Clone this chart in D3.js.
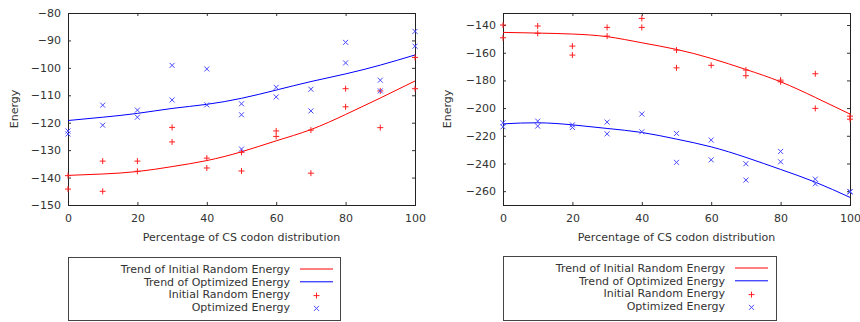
<!DOCTYPE html>
<html>
<head>
<meta charset="utf-8">
<script src="https://cdn.jsdelivr.net/npm/d3@7"></script>
<style>
  body { margin: 0; background: #fff; }
  text { font-family: "DejaVu Sans", sans-serif; font-size: 11px; fill: #333; }
</style>
</head>
<body>
<svg id="chart" width="860" height="322"></svg>
<script>
// x positions used by the trend curves
const trendX = [0, 10, 20, 30, 40, 50, 60, 70, 80, 90, 100];
const xTicks = [0, 20, 40, 60, 80, 100];

// ---- left panel ----
const leftYTicks = [-150, -140, -130, -120, -110, -100, -90, -80];
const leftRandomTrend = [-139.2, -138.7, -137.8, -136.0, -133.8, -130.6, -126.6, -122.5, -117.0, -111.0, -104.8];
const leftOptimizedTrend = [-119.2, -118.0, -116.6, -114.8, -113.3, -111.1, -108.1, -105.0, -102.2, -99.0, -95.3];
const leftRandomPoints = [
  [0, -144.2], [0, -139.3], [10, -134.0], [10, -145.0], [20, -134.0], [20, -137.7],
  [30, -121.7], [30, -127.0], [40, -132.9], [40, -136.5], [50, -130.8], [50, -137.6],
  [60, -123.0], [60, -125.0], [70, -122.7], [70, -138.4], [80, -107.6], [80, -114.2],
  [90, -108.4], [90, -121.8], [100, -96.2], [100, -107.6]
];
const leftOptimizedPoints = [
  [0, -123.0], [0, -124.1], [10, -113.6], [10, -120.9], [20, -115.4], [20, -118.0],
  [30, -99.1], [30, -111.7], [40, -100.4], [40, -113.5], [50, -113.1], [50, -117.1],
  [50, -129.6], [60, -107.1], [60, -110.6], [70, -107.8], [70, -115.7], [80, -90.7],
  [80, -98.2], [90, -104.5], [90, -108.4], [100, -86.7], [100, -92.1]
];

// ---- right panel ----
const rightYTicks = [-260, -240, -220, -200, -180, -160, -140];
const rightRandomTrend = [-145.3, -145.8, -146.5, -148.4, -152.8, -157.6, -164.1, -172.1, -181.0, -192.3, -204.3];
const rightOptimizedTrend = [-211.4, -210.6, -212.1, -214.7, -217.6, -222.4, -228.0, -235.6, -244.3, -253.5, -264.5];
const rightRandomPoints = [
  [0, -140.0], [0, -149.2], [10, -140.7], [10, -146.0], [20, -155.2], [20, -161.7],
  [30, -141.7], [30, -148.0], [40, -135.2], [40, -141.7], [50, -158.1], [50, -170.9],
  [60, -169.1], [70, -172.5], [70, -176.6], [80, -179.8], [80, -181.0], [90, -175.2],
  [90, -200.2], [100, -205.8], [100, -208.0]
];
const rightOptimizedPoints = [
  [0, -210.6], [0, -213.5], [10, -209.4], [10, -213.0], [20, -212.1], [20, -214.0],
  [30, -210.1], [30, -218.6], [40, -204.3], [40, -217.1], [50, -218.3], [50, -239.2],
  [60, -223.1], [60, -237.4], [70, -240.2], [70, -252.0], [80, -231.3], [80, -238.8],
  [90, -251.3], [90, -254.7], [100, -260.2], [100, -260.6]
];

const legendLabels = ['Trend of Initial Random Energy', 'Trend of Optimized Energy',
                      'Initial Random Energy', 'Optimized Energy'];

const RED = '#ff0000';
const BLUE = '#0000ff';
const POINT_RED = '#ff2020';
const POINT_BLUE = '#4848ff';
const plusPath = 'M-3,0H3M0,-3V3';
const crossPath = 'M-2.5,-2.5L2.5,2.5M-2.5,2.5L2.5,-2.5';

const svg = d3.select('#chart');

function drawPanel(p) {
  const root = svg.append('g');

  const x = d3.scaleLinear().domain([0, 100]).range([p.left, p.right]);
  const y = d3.scaleLinear().domain(p.yDomain).range([p.bottom, p.top]);

  // axes with inward ticks, mirrored on top and right
  const axisColor = '#333';
  root.append('g')
    .attr('transform', `translate(${p.left},0)`)
    .attr('color', axisColor)
    .call(d3.axisLeft(y).tickValues(p.yTicks).tickSize(-3).tickPadding(7))
    .call(g => g.select('.domain').remove());
  root.append('g')
    .attr('transform', `translate(${p.right},0)`)
    .attr('color', axisColor)
    .call(d3.axisRight(y).tickValues(p.yTicks).tickSize(-3).tickFormat(''))
    .call(g => g.select('.domain').remove());
  root.append('g')
    .attr('transform', `translate(0,${p.bottom})`)
    .attr('color', axisColor)
    .call(d3.axisBottom(x).tickValues(xTicks).tickSize(-3).tickPadding(9))
    .call(g => g.select('.domain').remove());
  root.append('g')
    .attr('transform', `translate(0,${p.top})`)
    .attr('color', axisColor)
    .call(d3.axisTop(x).tickValues(xTicks).tickSize(-3).tickFormat(''))
    .call(g => g.select('.domain').remove());
  root.selectAll('.tick text').style('font-size', '11px').attr('fill', '#333');

  root.append('rect')
    .attr('x', p.left).attr('y', p.top)
    .attr('width', p.right - p.left).attr('height', p.bottom - p.top)
    .attr('fill', 'none').attr('stroke', '#222').attr('stroke-width', 1)
    .attr('shape-rendering', 'crispEdges');

  // axis titles
  root.append('text')
    .attr('x', (p.left + p.right) / 2).attr('y', p.bottom + 36)
    .attr('text-anchor', 'middle')
    .text('Percentage of CS codon distribution');
  root.append('text')
    .attr('transform', `translate(${p.yTitleX},${(p.top + p.bottom) / 2}) rotate(-90)`)
    .attr('text-anchor', 'middle')
    .text('Energy');

  // trend curves
  const line = d3.line()
    .x((d, i) => x(trendX[i]))
    .y(d => y(d))
    .curve(d3.curveNatural);
  root.append('path').attr('d', line(p.randomTrend))
    .attr('fill', 'none').attr('stroke', RED).attr('stroke-width', 1);
  root.append('path').attr('d', line(p.optimizedTrend))
    .attr('fill', 'none').attr('stroke', BLUE).attr('stroke-width', 1);

  // sample points
  root.selectAll('.rnd').data(p.randomPoints).enter()
    .append('path')
      .attr('class', 'rnd')
      .attr('d', plusPath)
      .attr('transform', d => `translate(${x(d[0])},${y(d[1])})`)
      .attr('fill', 'none').attr('stroke', POINT_RED).attr('stroke-width', 1);
  root.selectAll('.opt').data(p.optimizedPoints).enter()
    .append('path')
      .attr('class', 'opt')
      .attr('d', crossPath)
      .attr('transform', d => `translate(${x(d[0])},${y(d[1])})`)
      .attr('fill', 'none').attr('stroke', POINT_BLUE).attr('stroke-width', 1);

  // legend box
  const lg = root.append('g');
  lg.append('rect')
    .attr('x', p.legend.x + 0.5).attr('y', p.legend.y + 0.5)
    .attr('width', p.legend.w).attr('height', p.legend.h)
    .attr('fill', '#fff').attr('stroke', '#444').attr('stroke-width', 1);
  legendLabels.forEach(function(label, i) {
    const cy = p.legend.y + 12 + i * 12.8;
    lg.append('text')
      .attr('x', p.legend.textX).attr('y', cy)
      .attr('dy', '0.35em')
      .attr('text-anchor', 'end')
      .text(label);
    const sx = p.legend.textX + 10;
    if (i < 2) {
      lg.append('line')
        .attr('x1', sx).attr('x2', sx + 33)
        .attr('y1', cy).attr('y2', cy)
        .attr('stroke', i === 0 ? RED : BLUE).attr('stroke-width', 1);
    } else {
      lg.append('path')
        .attr('d', i === 2 ? plusPath : crossPath)
        .attr('transform', `translate(${sx + 16.5},${cy + 1})`)
        .attr('fill', 'none')
        .attr('stroke', i === 2 ? POINT_RED : POINT_BLUE).attr('stroke-width', 1);
    }
  });
}

drawPanel({
  left: 68, right: 415, top: 13, bottom: 205,
  yDomain: [-150, -80], yTicks: leftYTicks, yTitleX: 18,
  randomTrend: leftRandomTrend, optimizedTrend: leftOptimizedTrend,
  randomPoints: leftRandomPoints, optimizedPoints: leftOptimizedPoints,
  legend: { x: 68, y: 257, w: 272, h: 63, textX: 290 }
});

drawPanel({
  left: 503, right: 850, top: 13, bottom: 205,
  yDomain: [-270, -131.3], yTicks: rightYTicks, yTitleX: 451,
  randomTrend: rightRandomTrend, optimizedTrend: rightOptimizedTrend,
  randomPoints: rightRandomPoints, optimizedPoints: rightOptimizedPoints,
  legend: { x: 503, y: 256, w: 273, h: 64, textX: 725 }
});
</script>
</body>
</html>
